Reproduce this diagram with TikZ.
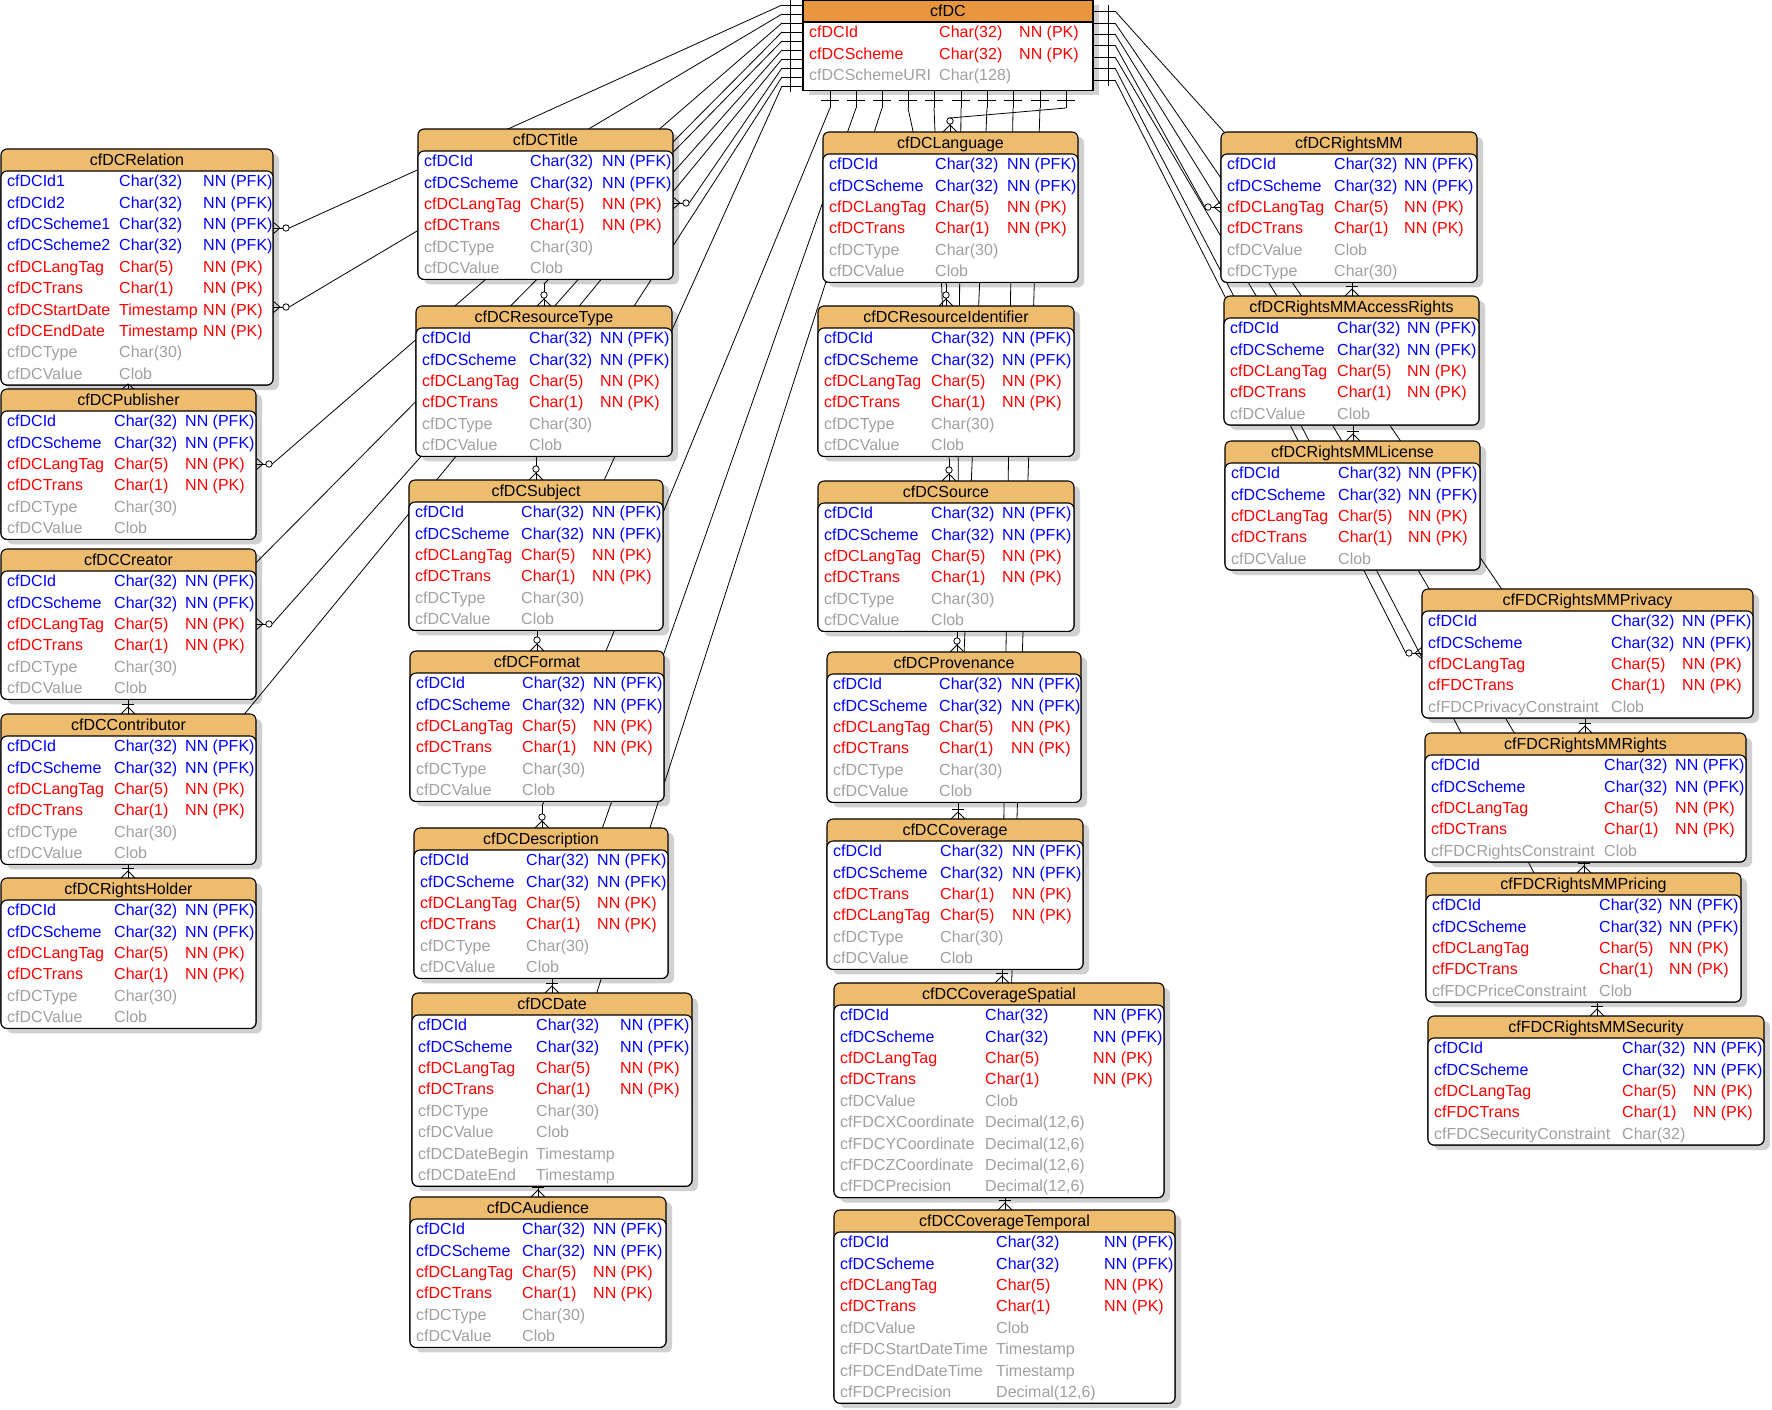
\documentclass[tikz,border=0pt]{standalone}
\usepackage{fontspec}
\setmainfont{Liberation Sans}
\definecolor{hdr}{RGB}{238,188,110}
\definecolor{hdrmain}{RGB}{232,150,62}
\definecolor{shd}{RGB}{208,208,208}
\definecolor{pfk}{RGB}{0,0,255}
\definecolor{pk}{RGB}{255,0,0}
\definecolor{att}{RGB}{160,160,160}
\newif\ifshadowpass
\tikzset{
 tblline/.style={draw=black,line width=1.1pt},
 conn/.style={draw=black,line width=0.8pt},
 tblshape/.style={rounded corners=6pt},
 hdrfill/.style={fill=hdr},
 cell/.style={anchor=west,inner sep=0pt,text height=11.5pt,text depth=0pt,font=\fontsize{16}{19}\selectfont},
 hdrtext/.style={anchor=center,inner sep=0pt,text height=11.5pt,text depth=0pt,font=\fontsize{16}{19}\selectfont},
}
\newcommand\tbl[9]{%
 \def\tN{#1}\def\tX{#2}\def\tY{#3}\def\tW{#4}\def\cB{#6}\def\cC{#7}%
 \pgfmathsetmacro\tH{22+#8*21.4}%
 \ifshadowpass
  \fill[shd,tblshape] (\tX+6,\tY+5) rectangle ++(\tW,\tH);%
 \else
  \draw[tblline,hdrfill,tblshape] (\tX,\tY) rectangle ++(\tW,\tH);%
  \draw[tblline,fill=white,tblshape] (\tX,\tY+22) rectangle ++(\tW,\tH-22);%
  \node[hdrtext] (#1) at (\tX+\tW/2,\tY+11) {#5};%
  \def\rI{0}%
  #9%
 \fi}
\newcommand\rw[4]{%
 \pgfmathsetmacro\rY{\tY+32+21.4*\rI}%
 \node[cell,text=#1] (\tN-\rI-a) at (\tX+6,\rY) {#2};%
 \node[cell,text=#1] (\tN-\rI-b) at (\tX+\cB,\rY) {#3};%
 \node[cell,text=#1] (\tN-\rI-c) at (\tX+\cC,\rY) {#4};%
 \pgfmathtruncatemacro\rI{\rI+1}}
\newcommand\fkrows{\rw{pfk}{cfDCId}{Char(32)}{NN (PFK)}\rw{pfk}{cfDCScheme}{Char(32)}{NN (PFK)}}
\newcommand\lgrows{\rw{pk}{cfDCLangTag}{Char(5)}{NN (PK)}\rw{pk}{cfDCTrans}{Char(1)}{NN (PK)}}
\newcommand\sixrows{\fkrows\lgrows\rw{att}{cfDCType}{Char(30)}{}\rw{att}{cfDCValue}{Clob}{}}
\newcommand\fiverows{\fkrows\lgrows\rw{att}{cfDCValue}{Clob}{}}
% cfDC stubs
\newcommand\lstub[1]{\coordinate (Le#1) at (803,#1); \coordinate (Ls#1) at (782,#1);
 \draw[conn] (Le#1) -- (Ls#1); \draw[conn] (790,#1-6) -- (790,#1+6);}
\newcommand\bstub[1]{\coordinate (Be#1) at (#1,90); \coordinate (Bs#1) at (#1,108);
 \draw[conn] (Be#1) -- (Bs#1); \draw[conn] (#1-9,100) -- (#1+9,100);}
\newcommand\rstub[1]{\coordinate (Re#1) at (1093,#1); \coordinate (Rs#1) at (1115,#1);
 \draw[conn] (Re#1) -- (Rs#1); \draw[conn] (1108,#1-6) -- (1108,#1+6);}
% child end marks
\newcommand\vfootbase[4]{\coordinate (#1) at (#2,#3-#4); \coordinate (#1e) at (#2,#3);
 \draw[conn] (#1) -- (#1e); \draw[conn] (#2-7,#3) -- (#2,#3-7) -- (#2+7,#3);}
\newcommand\vfootc[4]{\vfootbase{#1}{#2}{#3}{#4}\draw[conn,fill=white] (#2,#3-11) circle (3.2pt);}
\newcommand\vfoott[4]{\vfootbase{#1}{#2}{#3}{#4}\draw[conn] (#2-6,#3-10) -- (#2+6,#3-10);}
% #4 = +1 (edge on the right of a table) or -1 (edge on the left)
\newcommand\hfoot[4]{%
 \pgfmathsetmacro\hA{#2+#4*16.2}\pgfmathsetmacro\hB{#2+#4*9.8}%
 \pgfmathsetmacro\hC{#2+#4*7}\pgfmathsetmacro\hD{#2+#4*13}%
 \coordinate (#1) at (\hA,#3); \coordinate (#1e) at (#2,#3);
 \draw[conn] (\hB,#3) -- (#1e); \draw[conn] (#2,#3-6) -- (\hC,#3) -- (#2,#3+6);
 \draw[conn,fill=white] (\hD,#3) circle (3.2pt);}
\newcommand\alltables{%
 \tikzset{tblshape/.style={sharp corners},hdrfill/.style={fill=hdrmain}}%
 \tbl{tcfDC}{803}{0}{290}{cfDC}{136}{216}{3.18}{\rw{pk}{cfDCId}{Char(32)}{NN (PK)}\rw{pk}{cfDCScheme}{Char(32)}{NN (PK)}\rw{att}{cfDCSchemeURI}{Char(128)}{}}%
 \tikzset{tblshape/.style={rounded corners=6pt},hdrfill/.style={fill=hdr}}%
 \tbl{tRelation}{1}{149}{272}{cfDCRelation}{118}{202}{10}{\rw{pfk}{cfDCId1}{Char(32)}{NN (PFK)}\rw{pfk}{cfDCId2}{Char(32)}{NN (PFK)}\rw{pfk}{cfDCScheme1}{Char(32)}{NN (PFK)}\rw{pfk}{cfDCScheme2}{Char(32)}{NN (PFK)}\lgrows\rw{pk}{cfDCStartDate}{Timestamp}{NN (PK)}\rw{pk}{cfDCEndDate}{Timestamp}{NN (PK)}\rw{att}{cfDCType}{Char(30)}{}\rw{att}{cfDCValue}{Clob}{}}%
 \tbl{tPublisher}{1}{389}{255}{cfDCPublisher}{113}{184}{6}{\sixrows}%
 \tbl{tCreator}{1}{549}{255}{cfDCCreator}{113}{184}{6}{\sixrows}%
 \tbl{tContributor}{1}{714}{255}{cfDCContributor}{113}{184}{6}{\sixrows}%
 \tbl{tRightsHolder}{1}{878}{255}{cfDCRightsHolder}{113}{184}{6}{\sixrows}%
 \tbl{tTitle}{418}{129}{255}{cfDCTitle}{112}{184}{6}{\sixrows}%
 \tbl{tResourceType}{416}{306}{256}{cfDCResourceType}{113}{184}{6}{\sixrows}%
 \tbl{tSubject}{409}{480}{254}{cfDCSubject}{112}{183}{6}{\sixrows}%
 \tbl{tFormat}{410}{651}{254}{cfDCFormat}{112}{183}{6}{\sixrows}%
 \tbl{tDescription}{414}{828}{254}{cfDCDescription}{112}{183}{6}{\sixrows}%
 \tbl{tDate}{412}{993}{280}{cfDCDate}{124}{208}{8}{\sixrows\rw{att}{cfDCDateBegin}{Timestamp}{}\rw{att}{cfDCDateEnd}{Timestamp}{}}%
 \tbl{tAudience}{410}{1197}{256}{cfDCAudience}{112}{183}{6}{\sixrows}%
 \tbl{tLanguage}{823}{132}{255}{cfDCLanguage}{112}{184}{6}{\sixrows}%
 \tbl{tResourceIdentifier}{818}{306}{256}{cfDCResourceIdentifier}{113}{184}{6}{\sixrows}%
 \tbl{tSource}{818}{481}{256}{cfDCSource}{113}{184}{6}{\sixrows}%
 \tbl{tProvenance}{827}{652}{254}{cfDCProvenance}{112}{184}{6}{\sixrows}%
 \tbl{tCoverage}{827}{819}{256}{cfDCCoverage}{113}{185}{6}{\fkrows\rw{pk}{cfDCTrans}{Char(1)}{NN (PK)}\rw{pk}{cfDCLangTag}{Char(5)}{NN (PK)}\rw{att}{cfDCType}{Char(30)}{}\rw{att}{cfDCValue}{Clob}{}}%
 \tbl{tCoverageSpatial}{834}{983}{330}{cfDCCoverageSpatial}{151}{259}{9}{\fkrows\lgrows\rw{att}{cfDCValue}{Clob}{}\rw{att}{cfFDCXCoordinate}{Decimal(12,6)}{}\rw{att}{cfFDCYCoordinate}{Decimal(12,6)}{}\rw{att}{cfFDCZCoordinate}{Decimal(12,6)}{}\rw{att}{cfFDCPrecision}{Decimal(12,6)}{}}%
 \tbl{tCoverageTemporal}{834}{1210}{341}{cfDCCoverageTemporal}{162}{270}{8}{\fkrows\lgrows\rw{att}{cfDCValue}{Clob}{}\rw{att}{cfFDCStartDateTime}{Timestamp}{}\rw{att}{cfFDCEndDateTime}{Timestamp}{}\rw{att}{cfFDCPrecision}{Decimal(12,6)}{}}%
 \tbl{tRightsMM}{1221}{132}{256}{cfDCRightsMM}{113}{183}{6}{\fkrows\lgrows\rw{att}{cfDCValue}{Clob}{}\rw{att}{cfDCType}{Char(30)}{}}%
 \tbl{tAccessRights}{1224}{296}{255}{cfDCRightsMMAccessRights}{113}{183}{5}{\fiverows}%
 \tbl{tLicense}{1225}{441}{255}{cfDCRightsMMLicense}{113}{183}{5}{\fiverows}%
 \tbl{tPrivacy}{1422}{589}{331}{cfFDCRightsMMPrivacy}{189}{260}{5}{\fkrows\rw{pk}{cfDCLangTag}{Char(5)}{NN (PK)}\rw{pk}{cfFDCTrans}{Char(1)}{NN (PK)}\rw{att}{cfFDCPrivacyConstraint}{Clob}{}}%
 \tbl{tRights}{1425}{733}{321}{cfFDCRightsMMRights}{179}{250}{5}{\fkrows\lgrows\rw{att}{cfFDCRightsConstraint}{Clob}{}}%
 \tbl{tPricing}{1426}{873}{315}{cfFDCRightsMMPricing}{173}{243}{5}{\fkrows\rw{pk}{cfDCLangTag}{Char(5)}{NN (PK)}\rw{pk}{cfFDCTrans}{Char(1)}{NN (PK)}\rw{att}{cfFDCPriceConstraint}{Clob}{}}%
 \tbl{tSecurity}{1428}{1016}{336}{cfFDCRightsMMSecurity}{194}{265}{5}{\fkrows\rw{pk}{cfDCLangTag}{Char(5)}{NN (PK)}\rw{pk}{cfFDCTrans}{Char(1)}{NN (PK)}\rw{att}{cfFDCSecurityConstraint}{Char(32)}{}}%
}
\begin{document}
\begin{tikzpicture}[x=1pt,y=-1pt]
\useasboundingbox (0,0) rectangle (1772,1409);
\fill[white] (0,0) rectangle (1772,1409);
\shadowpasstrue\alltables
% stubs at cfDC
\lstub{5}\lstub{14}\lstub{23}\lstub{32}\lstub{41}\lstub{50}\lstub{59}\lstub{68}\lstub{77}\lstub{86}
\bstub{830}\bstub{856}\bstub{882}\bstub{908}\bstub{934}\bstub{961}\bstub{987}\bstub{1013}\bstub{1040}\bstub{1066}
\rstub{11}\rstub{23}\rstub{34}\rstub{45}\rstub{57}\rstub{68}\rstub{80}
% left side connectors
\hfoot{RelA}{273}{228}{1}\draw[conn] (Ls5) -- (RelA);
\hfoot{RelB}{273}{307}{1}\draw[conn] (Ls14) -- (RelB);
\hfoot{PubR}{256}{464}{1}\draw[conn] (Ls23) -- (PubR);
\vfoott{ContF}{128}{714}{22}\draw[conn] (Ls32) -- (ContF);
\vfootc{RTF}{544}{306}{22}\draw[conn] (Ls41) -- (RTF);
\hfoot{CreR}{256}{624}{1}\draw[conn] (Ls50) -- (CreR);
\vfoott{RHF}{128}{878}{22}\draw[conn] (Ls59) -- (RHF);
\hfoot{TitR}{673}{203}{1}\draw[conn] (Ls68) -- (TitR);
\vfootc{SubF}{536}{480}{22}\draw[conn] (Ls77) -- (SubF);
\vfootc{FmtF}{537}{651}{22}\draw[conn] (Ls86) -- (FmtF);
% bottom connectors
\vfootc{DescF}{542}{828}{22}\draw[conn] (Bs830) -- (DescF);
\vfoott{DateF}{552}{993}{22}\draw[conn] (Bs856) -- (DateF);
\vfoott{AudF}{538}{1197}{22}\draw[conn] (Bs882) -- (AudF);
\vfootc{RIF}{946}{306}{22}\draw[conn] (Bs908) -- (RIF);
\vfootc{SrcF}{949}{481}{22}\draw[conn] (Bs934) -- (SrcF);
\vfootc{ProvF}{957}{652}{22}\draw[conn] (Bs961) -- (ProvF);
\vfoott{CovF}{958}{819}{22}\draw[conn] (Bs987) -- (CovF);
\vfoott{SpaF}{1002}{983}{22}\draw[conn] (Bs1013) -- (SpaF);
\vfoott{TemF}{1005}{1210}{22}\draw[conn] (Bs1040) -- (TemF);
\vfootc{LangF}{950}{132}{14}\draw[conn] (Bs1066) -- (LangF);
% right side connectors
\vfoott{ARF}{1352}{296}{22}\draw[conn] (Rs11) -- (ARF);
\vfoott{RgtF}{1585}{733}{22}\draw[conn] (Rs23) -- (RgtF);
\vfoott{LicF}{1353}{441}{22}\draw[conn] (Rs34) -- (LicF);
\hfoot{RMMF}{1221}{207}{-1}\draw[conn] (Rs45) -- (RMMF);
\vfoott{PrcF}{1584}{873}{22}\draw[conn] (Rs57) -- (PrcF);
\vfoott{SecF}{1597}{1016}{22}\draw[conn] (Rs68) -- (SecF);
\hfoot{PrvF}{1422}{653}{-1}\draw[conn] (Rs80) -- (PrvF);
% tables
\shadowpassfalse\alltables
% small mark on top of cfDCPublisher
\draw[conn] (122,389) -- (128,384) -- (134,389);
\draw[conn] (128,384) -- (128,389);
\end{tikzpicture}
\end{document}
